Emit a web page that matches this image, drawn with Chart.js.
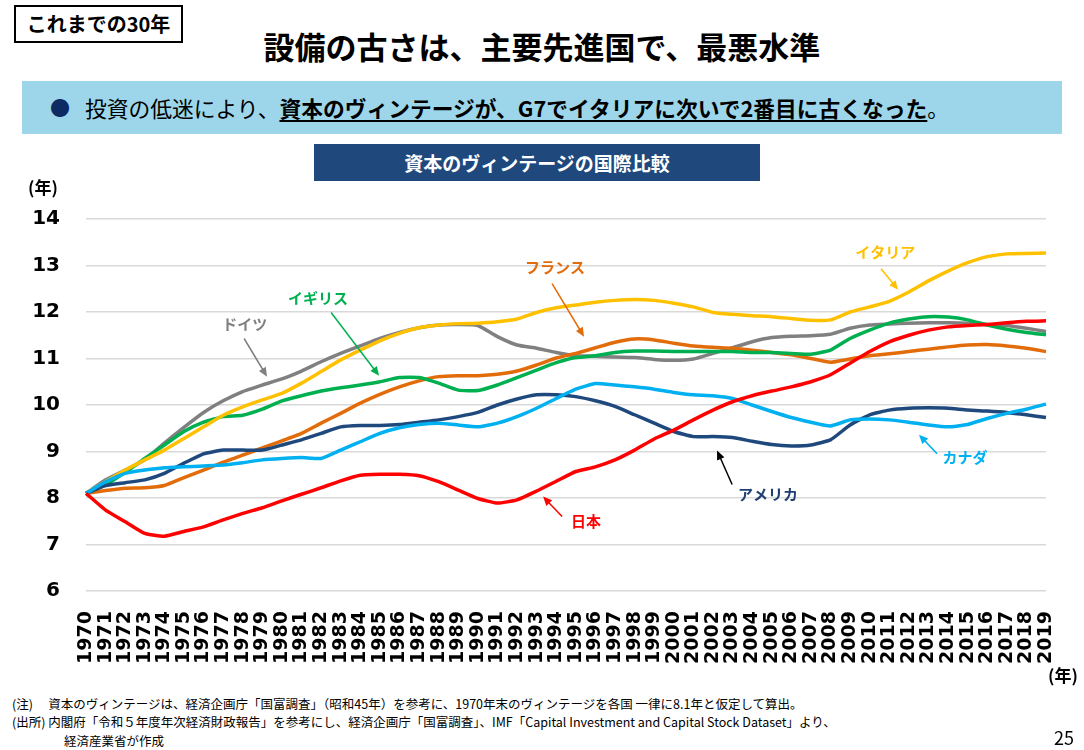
<!DOCTYPE html>
<html lang="ja">
<head>
<meta charset="utf-8">
<script src="https://cdn.jsdelivr.net/npm/chart.js@4.4.1/dist/chart.umd.min.js"></script>
<style>
  body { margin: 0; width: 1084px; height: 750px; background: #fff; position: relative; overflow: hidden;
    font-family: "Noto Sans CJK JP", "Noto Sans", sans-serif; color: #000; }
  .abs { position: absolute; }
  #tag { left: 14px; top: 5px; width: 165px; height: 34px; border: 2px solid #000; font-size: 20px; font-weight: bold;
    line-height: 34px; text-align: center; }
  #title { left: 0; width: 1084px; top: 24px; text-align: center; font-size: 31px; font-weight: bold; line-height: 44px; }
  #banner { left: 22px; top: 81px; width: 1040px; height: 53px; background: #9dd6ea; font-size: 21.75px; line-height: 53px; }
  #banner .dot { position: absolute; left: 28px; color: #0e2a62; font-size: 20px; }
  #banner .txt { position: absolute; left: 63px; white-space: nowrap; }
  #banner b { text-decoration: underline; text-underline-offset: 3px; }
  #ctitle { left: 314px; top: 144px; width: 446px; height: 37px; background: #1f497d; color: #fff; font-size: 19px;
    font-weight: bold; text-align: center; line-height: 37px; }
  .unit { font-size: 17px; font-weight: bold; }
  .note { left: 12px; font-size: 12.5px; white-space: nowrap; }
  #page { right: 10px; top: 724px; font-size: 18px; }
  #chart { left: 0; top: 181px; }
</style>
</head>
<body>
<div id="tag" class="abs">これまでの30年</div>
<div id="title" class="abs">設備の古さは、主要先進国で、最悪水準</div>
<div id="banner" class="abs"><span class="dot">●</span><span class="txt">投資の低迷により、<b>資本のヴィンテージが、G7でイタリアに次いで2番目に古くなった</b>。</span></div>
<div id="ctitle" class="abs">資本のヴィンテージの国際比較</div>
<canvas id="chart" class="abs" width="1084" height="488"></canvas>
<div class="abs unit" style="left:28px;top:174px;">(年)</div>
<div class="abs unit" style="left:1048px;top:662px;">(年)</div>
<div class="abs note" style="top:694px;">(注)　 資本のヴィンテージは、経済企画庁「国富調査」（昭和45年）を参考に、1970年末のヴィンテージを各国 一律に8.1年と仮定して算出。</div>
<div class="abs note" style="top:712px;">(出所) 内閣府「令和５年度年次経済財政報告」を参考にし、経済企画庁「国富調査」、IMF「Capital Investment and Capital Stock Dataset」より、</div>
<div class="abs note" style="top:731px;left:64px;">経済産業省が作成</div>
<div id="page" class="abs">25</div>
<script>
const years = [];
for (let y = 1970; y <= 2019; y++) years.push(String(y));

const japan = [
  8.1, 7.74, 7.49, 7.24, 7.18, 7.28, 7.38, 7.53, 7.67, 7.79,
  7.94, 8.08, 8.22, 8.37, 8.49, 8.51, 8.51, 8.48, 8.35, 8.17,
  7.99, 7.89, 7.96, 8.15, 8.36, 8.57, 8.67, 8.82, 9.03, 9.27,
  9.46, 9.68, 9.89, 10.07, 10.2, 10.3, 10.39, 10.5, 10.65, 10.9,
  11.15, 11.36, 11.5, 11.61, 11.68, 11.71, 11.73, 11.77, 11.8, 11.81,
];
const italy = [
  8.1, 8.35, 8.6, 8.82, 9.03, 9.28, 9.53, 9.78, 9.96, 10.11,
  10.25, 10.47, 10.72, 10.97, 11.18, 11.38, 11.54, 11.66, 11.72, 11.75,
  11.76, 11.79, 11.85, 11.99, 12.09, 12.15, 12.21, 12.25, 12.27, 12.25,
  12.19, 12.11, 11.99, 11.95, 11.92, 11.9, 11.86, 11.82, 11.83, 12.0,
  12.11, 12.23, 12.43, 12.67, 12.88, 13.06, 13.19, 13.25, 13.26, 13.27,
];
const germany = [
  8.1, 8.39, 8.6, 8.82, 9.18, 9.52, 9.84, 10.09, 10.29, 10.43,
  10.56, 10.73, 10.93, 11.11, 11.27, 11.43, 11.56, 11.66, 11.72, 11.73,
  11.71, 11.47, 11.29, 11.22, 11.13, 11.06, 11.05, 11.03, 11.02, 10.98,
  10.96, 10.99, 11.11, 11.23, 11.36, 11.45, 11.48, 11.49, 11.52, 11.65,
  11.72, 11.74, 11.76, 11.77, 11.77, 11.76, 11.73, 11.71, 11.65, 11.58,
];
const uk = [
  8.1, 8.28, 8.55, 8.85, 9.14, 9.43, 9.63, 9.75, 9.78, 9.91,
  10.09, 10.2, 10.3, 10.37, 10.43, 10.5, 10.59, 10.59, 10.47, 10.32,
  10.31, 10.43, 10.59, 10.75, 10.91, 11.02, 11.06, 11.13, 11.16, 11.16,
  11.15, 11.15, 11.15, 11.15, 11.13, 11.13, 11.11, 11.09, 11.18, 11.43,
  11.61, 11.76, 11.85, 11.9, 11.89, 11.83, 11.72, 11.63, 11.56, 11.51,
];
const france = [
  8.1, 8.16, 8.21, 8.22, 8.27, 8.44, 8.6, 8.77, 8.92, 9.08,
  9.23, 9.39, 9.61, 9.82, 10.04, 10.23, 10.39, 10.52, 10.61, 10.63,
  10.63, 10.66, 10.73, 10.86, 11.01, 11.11, 11.23, 11.35, 11.42, 11.4,
  11.33, 11.27, 11.24, 11.22, 11.18, 11.13, 11.08, 11.0, 10.92, 10.99,
  11.06, 11.1, 11.15, 11.2, 11.25, 11.29, 11.3, 11.27, 11.22, 11.15,
];
const usa = [
  8.1, 8.27, 8.33, 8.39, 8.53, 8.75, 8.95, 9.03, 9.03, 9.03,
  9.14, 9.25, 9.39, 9.53, 9.56, 9.56, 9.58, 9.63, 9.68, 9.75,
  9.84, 10.0, 10.13, 10.22, 10.22, 10.18, 10.09, 9.97, 9.79, 9.61,
  9.43, 9.32, 9.32, 9.3, 9.22, 9.15, 9.12, 9.14, 9.25, 9.57,
  9.79, 9.89, 9.93, 9.94, 9.93, 9.89, 9.87, 9.84, 9.79, 9.73,
];
const canada = [
  8.1, 8.35, 8.53, 8.6, 8.65, 8.67, 8.69, 8.71, 8.76, 8.82,
  8.85, 8.87, 8.85, 9.03, 9.21, 9.39, 9.51, 9.58, 9.61, 9.57,
  9.53, 9.61, 9.75, 9.93, 10.14, 10.34, 10.46, 10.43, 10.39, 10.34,
  10.27, 10.22, 10.2, 10.14, 10.0, 9.86, 9.73, 9.63, 9.55, 9.68,
  9.7, 9.68, 9.63, 9.57, 9.53, 9.58, 9.71, 9.82, 9.91, 10.02,
];
const yTicks = [6, 7, 8, 9, 10, 11, 12, 13, 14];

// 国名ラベルと矢印（年, 値 の位置）
const callouts = [
  { text: "ドイツ", color: "#808080", arrow: "#808080", at: [1978.1, 11.73], from: [1978.07, 11.43], to: [1979.24, 10.61] },
  { text: "イギリス", color: "#00b050", arrow: "#00b050", at: [1981.84, 12.29], from: [1982.51, 11.99], to: [1984.96, 10.63] },
  { text: "フランス", color: "#e36c0a", arrow: "#e36c0a", at: [1993.94, 12.97], from: [1993.79, 12.61], to: [1995.42, 11.47] },
  { text: "イタリア", color: "#ffc000", arrow: "#ffc000", at: [2010.79, 13.28], from: [2010.58, 12.93], to: [2011.45, 12.48] },
  { text: "カナダ", color: "#00b0f0", arrow: "#00b0f0", at: [2014.87, 8.87], from: [2013.44, 8.95], to: [2012.52, 9.36] },
  { text: "アメリカ", color: "#1f3f73", arrow: "#000000", at: [2004.81, 8.09], from: [2002.98, 8.29], to: [2002.21, 9.02] },
  { text: "日本", color: "#ff0000", arrow: "#ff0000", at: [1995.52, 7.49], from: [1994.3, 7.6], to: [1993.33, 8.03] },
];

const calloutPlugin = {
  id: "callouts",
  afterDatasetsDraw(chart) {
    const { ctx, scales } = chart;
    const px = (p) => [scales.x.getPixelForValue(p[0] - 1970), scales.y.getPixelForValue(p[1])];
    ctx.save();
    callouts.forEach((c) => {
      const [x1, y1] = px(c.from);
      const [x2, y2] = px(c.to);
      const ang = Math.atan2(y2 - y1, x2 - x1);
      ctx.strokeStyle = c.arrow;
      ctx.fillStyle = c.arrow;
      ctx.lineWidth = 1.5;
      ctx.beginPath();
      ctx.moveTo(x1, y1);
      ctx.lineTo(x2 - 6 * Math.cos(ang), y2 - 6 * Math.sin(ang));
      ctx.stroke();
      ctx.beginPath();
      ctx.moveTo(x2, y2);
      ctx.lineTo(x2 - 9 * Math.cos(ang) + 4 * Math.sin(ang), y2 - 9 * Math.sin(ang) - 4 * Math.cos(ang));
      ctx.lineTo(x2 - 9 * Math.cos(ang) - 4 * Math.sin(ang), y2 - 9 * Math.sin(ang) + 4 * Math.cos(ang));
      ctx.closePath();
      ctx.fill();
      const [tx, ty] = px(c.at);
      ctx.fillStyle = c.color;
      ctx.font = 'bold 15px "Noto Sans CJK JP"';
      ctx.textAlign = "center";
      ctx.textBaseline = "middle";
      ctx.fillText(c.text, tx, ty);
    });
    ctx.restore();
  },
};

const line = (label, data, color) => ({
  label,
  data,
  borderColor: color,
  backgroundColor: color,
  borderWidth: 3.5,
  pointRadius: 0,
  tension: 0.15,
  fill: false,
});

new Chart(document.getElementById("chart").getContext("2d"), {
  type: "line",
  data: {
    labels: years,
    datasets: [
      line("日本", japan, "#ff0000"),
      line("カナダ", canada, "#00b0f0"),
      line("アメリカ", usa, "#1f497d"),
      line("イタリア", italy, "#ffc000"),
      line("イギリス", uk, "#00b050"),
      line("フランス", france, "#e36c0a"),
      line("ドイツ", germany, "#808080"),
    ],
  },
  options: {
    responsive: false,
    animation: false,
    layout: { padding: { top: 8, right: 38, left: 0, bottom: 0 } },
    plugins: { legend: { display: false }, tooltip: { enabled: false } },
    scales: {
      x: {
        offset: false,
        grid: { display: false },
        border: { display: false },
        ticks: {
          autoSkip: false,
          minRotation: 90,
          maxRotation: 90,
          padding: 12,
          color: "#000",
          font: { family: "DejaVu Sans", weight: "bold", size: 19 },
        },
        afterFit(scale) { scale.height = 78; },
      },
      y: {
        min: 6,
        max: 14,
        afterBuildTicks(scale) { scale.ticks = yTicks.map((v) => ({ value: v })); },
        grid: { color: "#d9d9d9", lineWidth: 1.5, drawTicks: false },
        border: { display: false },
        ticks: {
          padding: 26,
          color: "#000",
          font: { family: "DejaVu Sans", weight: "bold", size: 20 },
        },
        afterFit(scale) { scale.width = 86; },
      },
    },
  },
  plugins: [calloutPlugin],
});
</script>
</body>
</html>
